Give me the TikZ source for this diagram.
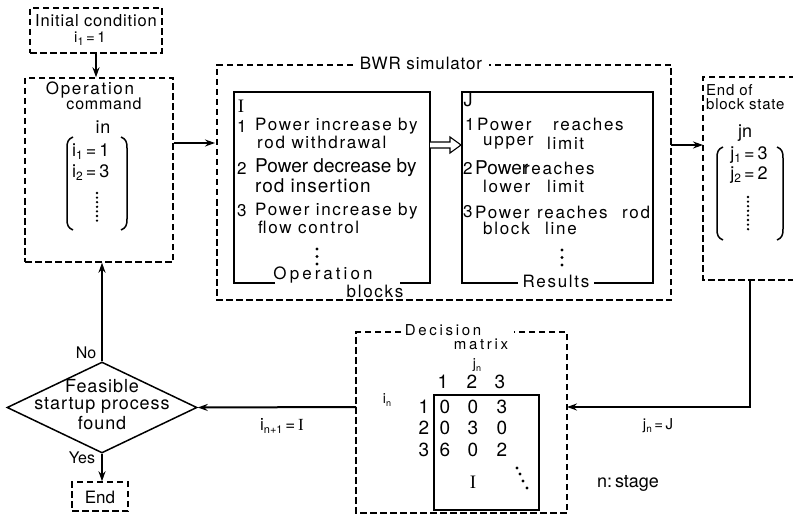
\documentclass[tikz,border=0pt]{standalone}
\usepackage{fontspec}
\setmainfont{TeX Gyre Heros}
\newfontfamily\hvs[LetterSpace=10]{TeX Gyre Heros}
\newfontfamily\hvm[LetterSpace=5]{TeX Gyre Heros}
\newfontfamily\hvw[LetterSpace=18]{TeX Gyre Heros}
\newfontfamily\tms{Liberation Serif}
\usetikzlibrary{arrows.meta,shapes.geometric,calc}
\newcommand\fsz[1]{\fontsize{#1}{#1}\selectfont}
\newcommand\sbs[2]{\raisebox{-3pt}{\fontsize{#1}{#1}\selectfont #2}}
\begin{document}
\begin{tikzpicture}[x=1pt,y=-1pt,
  dbox/.style={draw, line width=1.4pt, dash pattern=on 6.5pt off 3.5pt},
  sline/.style={line width=1.5pt},
  arr/.style={line width=2pt, -{Stealth[length=10pt,width=7pt]}},
  t/.style={inner sep=0pt},
  tw/.style={inner sep=0pt, anchor=west},
  vdots/.style={line width=2.6pt, line cap=round, dash pattern=on 0pt off 4.6pt}]
\fill[white] (0,0) rectangle (793,516);
\useasboundingbox (0,0) rectangle (793,516);

% ---------- initial condition ----------
\node[dbox, minimum width=132pt, minimum height=45pt, inner sep=0] (init) at (96,30.5) {};
\node[t] (initT1) at (96,21) {\hvm\fsz{16.5}Initial condition};
\node[t] (initT2) at (90,39) {\fsz{15}i\sbs{11}{1}\,=\,1};

% ---------- operation command ----------
\node[dbox, minimum width=148pt, minimum height=184pt, inner sep=0] (op) at (99,170) {};
\node[t] (opT1) at (90,90) {\hvs\fsz{17}Operation};
\node[t] (opT2) at (104,104) {\hvm\fsz{16}command};
\node[t] (opT3) at (103,127) {\hvm\fsz{18}in};
\draw[sline] (73,137) .. controls (68,139) and (67,142) .. (67,148) -- (67,219) .. controls (67,225) and (68,228) .. (73,230);
\draw[sline] (121,137) .. controls (126,139) and (127,142) .. (127,148) -- (127,219) .. controls (127,225) and (126,228) .. (121,230);
\node[tw] (opI1) at (72,152) {\fsz{18}i\sbs{12}{1}\,=\,1};
\node[tw] (opI2) at (72,173) {\fsz{18}i\sbs{12}{2}\,=\,3};
\draw[vdots] (97,193) -- (97,222);
\draw[arr] (init.south) -- (init.south |- op.north);

% ---------- BWR simulator ----------
\draw[dbox] (353,65) -- (217,65) -- (217,300) -- (671,300) -- (671,65) -- (489,65);
\node[t] (simT) at (421,63) {\hvm\fsz{17}BWR simulator};
\coordinate (simL) at (215,143);
\coordinate (simR) at (671,145);
\draw[arr] (op.east |- simL) -- (simL);

% ---------- box I ----------
\draw[sline] (275,283) -- (234,283) -- (234,92) -- (430,92) -- (430,283) -- (400,283);
\node[t] (Ilab) at (241,106) {\tms\fsz{19}I};
\node[tw] (I1n) at (237,126) {\fsz{17}1};
\node[tw] (I1a) at (255,126) {\hvs\fsz{17}Power increase by};
\node[tw] (I1b) at (257,142) {\hvs\fsz{17}rod withdrawal};
\node[tw] (I2n) at (237,168) {\fsz{17}2};
\node[tw] (I2a) at (255,168) {\fsz{19}Power decrease by};
\node[tw] (I2b) at (255,186) {\hvm\fsz{19}rod insertion};
\node[tw] (I3n) at (237,211) {\fsz{17}3};
\node[tw] (I3a) at (255,211) {\hvs\fsz{17}Power increase by};
\node[tw] (I3b) at (258,227) {\hvs\fsz{17}flow control};
\fill (317,249) circle (1.6pt) (317,256.5) circle (1.6pt) (317,264) circle (1.6pt);
\node[t] (Iop) at (323,275) {\hvw\fsz{17}Operation};
\node[t] (Iblk) at (375,291) {\hvs\fsz{17}blocks};

% ---------- box J ----------
\draw[sline] (518,283) -- (462,283) -- (462,92) -- (653,92) -- (653,283) -- (594,283);
\node[t] (Jlab) at (468,100) {\fsz{18}J};
\node[tw] (J1n) at (465,124) {\fsz{17}1};
\node[tw] (J1a) at (477,124) {\hvs\fsz{17}Power};
\node[tw] (J1b) at (553,124) {\hvs\fsz{17}reaches};
\node[tw] (J1c) at (483,143) {\hvs\fsz{17}upper};
\node[tw] (J1d) at (547,143) {\hvs\fsz{17}limit};
\node[tw] (J2n) at (463,168) {\fsz{17}2};
\node[tw] (J2a) at (475,168) {\fsz{19}Power};
\node[tw] (J2b) at (524,168) {\hvs\fsz{17}reaches};
\node[tw] (J2c) at (483,186) {\hvs\fsz{17}lower};
\node[tw] (J2d) at (547,186) {\hvs\fsz{17}limit};
\node[tw] (J3n) at (463,212) {\fsz{17}3};
\node[tw] (J3a) at (475,212) {\hvs\fsz{17}Power};
\node[tw] (J3b) at (537,212) {\hvs\fsz{17}reaches};
\node[tw] (J3c) at (622,212) {\hvs\fsz{17}rod};
\node[tw] (J3d) at (483,228) {\hvs\fsz{17}block};
\node[tw] (J3e) at (545,228) {\hvs\fsz{17}line};
\fill (562,250) circle (1.6pt) (562,257.5) circle (1.6pt) (562,265) circle (1.6pt);
\node[t] (Jres) at (556,281) {\hvs\fsz{17}Results};

% ---------- double arrow I -> J ----------
\coordinate (Ie) at (430,145);
\coordinate (Jw) at (462,145);
\draw[line width=1.1pt, fill=white, line join=miter]
  ($(Ie)+(0,-3)$) -- ($(Jw)+(-12,-3)$) -- ($(Jw)+(-12,-8)$) -- ($(Jw)+(-1,0)$)
  -- ($(Jw)+(-12,8)$) -- ($(Jw)+(-12,3)$) -- ($(Ie)+(0,3)$);

% ---------- end of block state ----------
\draw[dbox] (795,77) -- (703,77) -- (703,280) -- (795,280);
\coordinate (endL) at (703,145);
\coordinate (endB) at (750,280);
\draw[arr] (simR) -- (endL);
\node[tw] (E1) at (706,90) {\hvm\fsz{15}End of};
\node[tw] (E2) at (706,104) {\hvm\fsz{15}block state};
\node[t] (Ejn) at (745,133) {\fsz{18}jn};
\draw[sline] (723,147) .. controls (718,149) and (717,152) .. (717,158) -- (717,229) .. controls (717,235) and (718,238) .. (723,240);
\draw[sline] (777,147) .. controls (782,149) and (783,152) .. (783,158) -- (783,229) .. controls (783,235) and (782,238) .. (777,240);
\node[t] (Ej1) at (749,155) {\fsz{18}j\sbs{12}{1}\,=\,3};
\node[t] (Ej2) at (749,175) {\fsz{18}j\sbs{12}{2}\,=\,2};
\draw[vdots] (748,197) -- (748,232);

% ---------- to decision matrix ----------
\coordinate (decR) at (567,407);
\coordinate (decL) at (356,407);
\draw[arr] (endB) -- (endB |- decR) -- (decR);
\node[t] (jnJ) at (658,426) {\fsz{15}j\sbs{10}{n}\,=\,J};

% ---------- decision matrix ----------
\draw[dbox] (401,332) -- (356,332) -- (356,513) -- (567,513) -- (567,332) -- (514,332);
\node[t] (decT1) at (443,330) {\hvw\fsz{15}Decision};
\node[t] (decT2) at (481,344) {\hvw\fsz{15}matrix};
\node[t] (jnh) at (477,365) {\fsz{14}j\sbs{9}{n}};
\node[t] (inh) at (387,400) {\fsz{14}i\sbs{9}{n}};
\foreach \c/\x in {1/443,2/472,3/500} \node[t] (h\c) at (\x,382) {\fsz{19}\c};
\foreach \r/\y in {1/407,2/428,3/450} \node[t] (r\r) at (424,\y) {\fsz{19}\r};
\foreach \r/\y/\a/\b/\cc in {1/407/0/0/3,2/428/0/3/0,3/450/6/0/2}{
  \node[t] (m\r a) at (445,\y) {\fsz{19}\a};
  \node[t] (m\r b) at (473,\y) {\fsz{19}\b};
  \node[t] (m\r c) at (502,\y) {\fsz{19}\cc};
}
\draw[sline] (434,395) rectangle (539,510);
\node[t] (mI) at (473,482) {\tms\fsz{19}I};
\fill (517,468) circle (1.6pt) (520,474) circle (1.6pt) (523,481) circle (1.6pt) (527,488) circle (1.6pt);
\node[t] (stage) at (628,483) {\fsz{18}n:\,stage};

% ---------- decision diamond ----------
\node[diamond, draw, line width=1.5pt, minimum width=190pt, minimum height=91pt, inner sep=0, aspect=2.09] (dia) at (102,407.5) {};
\node[t] (D1) at (102,386) {\hvm\fsz{18}Feasible};
\node[t] (D2) at (102,405) {\hvm\fsz{18}startup process};
\node[t] (D3) at (102,423) {\hvm\fsz{18}found};
\draw[arr] (decL) -- (dia.east);
\node[t] (inp1) at (282,426) {\fsz{17}i\sbs{11}{n+1}\,=\,{\tms I}};
\draw[arr] (dia.north) -- (dia.north |- op.south);
\node[t] (No) at (86,353) {\fsz{16}No};
\node[dbox, minimum width=56pt, minimum height=29pt, inner sep=0] (endN) at (100,496.5) {};
\node[t] (endT) at (100,497) {\fsz{17}End};
\draw[arr] (dia.south) -- (dia.south |- endN.north);
\node[t] (Yes) at (82,458) {\fsz{16}Yes};
\end{tikzpicture}
\end{document}
